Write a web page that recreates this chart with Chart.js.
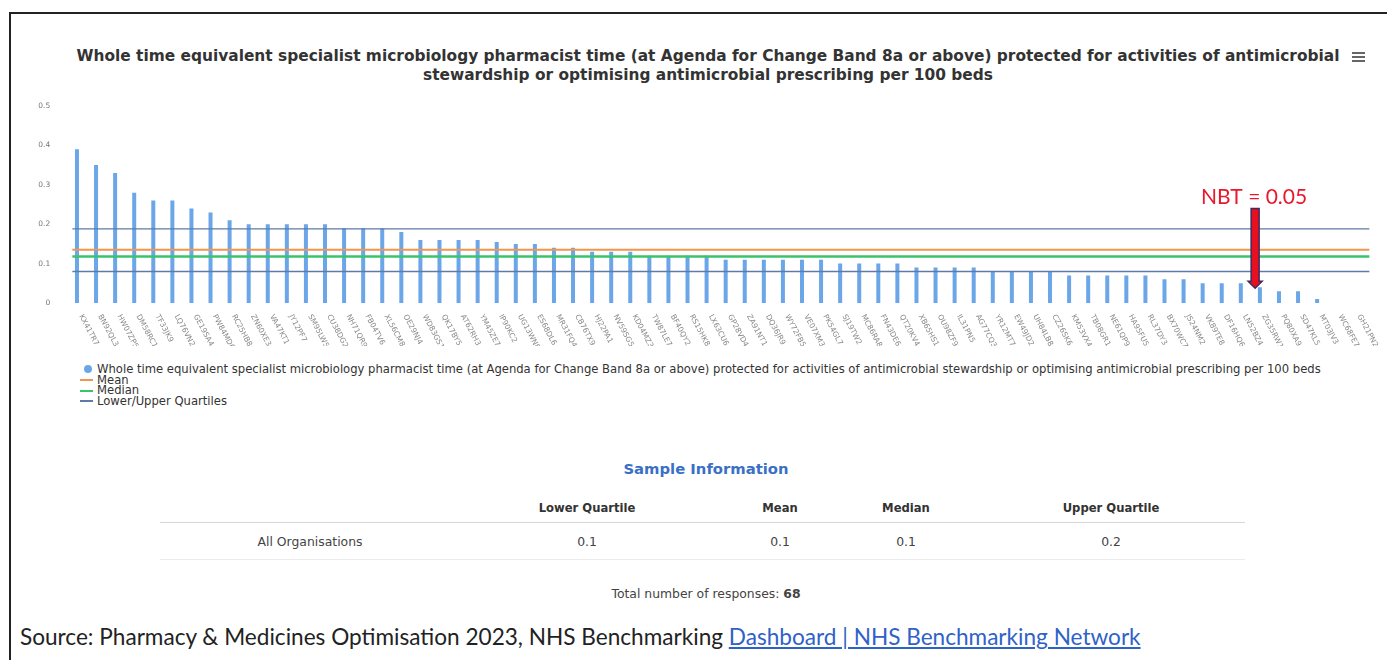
<!doctype html>
<html>
<head>
<meta charset="utf-8">
<title>WTE microbiology pharmacist time per 100 beds</title>
<script src="https://cdn.jsdelivr.net/npm/chart.js@4.4.1/dist/chart.umd.min.js"></script>
<style>
  body { margin: 0; width: 1387px; height: 660px; overflow: hidden; position: relative; background: #fff; font-family: "DejaVu Sans", sans-serif; color: #333; }
  #frame { position: absolute; left: 9px; top: 12px; width: 1390px; height: 660px; border-left: 2px solid #222; border-top: 2px solid #222; }
  #title { position: absolute; left: 29px; width: 1358px; top: 47px; text-align: center; font: bold 15.4px "DejaVu Sans"; line-height: 19px; color: #333; }
  #menu { position: absolute; left: 1352px; top: 52px; width: 13px; }
  #menu span { display: block; height: 2px; background: #666; margin-bottom: 2px; }
  #chart-holder { position: absolute; left: 0; top: 76px; width: 1387px; height: 270px; }
  #legend { position: absolute; left: 80px; top: 364px; font-size: 11.6px; line-height: 10.7px; color: #333; }
  #legend .item { display: flex; align-items: center; white-space: nowrap; }
  #legend .mark { width: 17px; height: 10px; position: relative; }
  #legend .dot { position: absolute; left: 4px; top: 1px; width: 8px; height: 8px; border-radius: 50%; }
  #legend .line { position: absolute; left: 0; top: 4px; width: 13px; height: 2px; }
  .cell { position: absolute; transform: translateX(-50%); white-space: nowrap; }
  #sample-title { left: 706px; top: 460px; font: bold 14.8px "DejaVu Sans"; color: #3a6fc6; }
  .head { top: 501px; font: bold 11.6px "DejaVu Sans"; color: #333; }
  .val { top: 534px; font-size: 12.4px; color: #444; }
  .rule { position: absolute; left: 160px; width: 1085px; height: 1px; }
  #total { left: 706px; top: 586px; font-size: 12.4px; color: #444; }
  #source { position: absolute; left: 20px; top: 623px; font: 22.6px Lato; color: #222; white-space: nowrap; }
  #source a { color: #2f62c8; text-decoration: underline; }
</style>
</head>
<body>
<div id="frame"></div>
<div id="title">Whole time equivalent specialist microbiology pharmacist time (at Agenda for Change Band 8a or above) protected for activities of antimicrobial<br>stewardship or optimising antimicrobial prescribing per 100 beds</div>
<div id="menu"><span></span><span></span><span></span></div>
<div id="chart-holder"><canvas id="chart" width="1387" height="270"></canvas></div>
<div id="legend"></div>
<div id="sample-title" class="cell">Sample Information</div>
<div id="table"></div>
<div class="rule" style="top:522px;background:#d6d6d6"></div>
<div class="rule" style="top:559px;background:#ececec"></div>
<div id="total" class="cell">Total number of responses: <b>68</b></div>
<div id="source">Source: Pharmacy &amp; Medicines Optimisation 2023, NHS Benchmarking <a href="#">Dashboard | NHS Benchmarking Network</a></div>

<script>
var seriesName = 'Whole time equivalent specialist microbiology pharmacist time (at Agenda for Change Band 8a or above) protected for activities of antimicrobial stewardship or optimising antimicrobial prescribing per 100 beds';

// organisation codes along the x axis
var orgCodes = [
  'KX41TR7','BN92QL3','HW07ZP5','DM58RC1','TF33JK9','LQ76VN2','GE19SA4','PW84MD6','RC25HB8','ZN60XE3',
  'VA47KT1','JY12PF7','SM95LW5','CU38DG2','NH71QR9','FB04TV6','XL56CM8','OE29NJ4','WD83GS1','QK17BY5',
  'AT62RH3','YM45ZE7','IP90KC2','UG13WN8','ES68DL6','MR31FQ4','CB76TX9','HJ22PA1','NV59SG5','KD04MZ3',
  'TW87LE7','BF40QY2','RS15HK8','LX63CU6','GP28VD4','ZA91NT1','DQ36JR9','WY72FB5','VE07XM3','PK54GL7',
  'SJ19TW2','MC86RA8','FN43DE6','QT20KV4','XB65HS1','OU98ZF9','IL31PN5','AG77CQ3','YR12MT7','EW49JD2',
  'UH84LB8','CZ26SK6','KM53VX4','TB08GR1','NE61QP9','HA95FU5','RL37DY3','BX70WC7','JS24NM2','VK89TE8',
  'DF16HQ6','LN52BZ4','ZG35RW1','PQ80XA9','SD47KL5','MT03JV3','WC68FE7','GH21PN2'
];

// WTE per 100 beds, one per organisation
var wteValues = [
  0.39, 0.35, 0.33, 0.28, 0.26, 0.26, 0.24, 0.23, 0.21, 0.20,
  0.20, 0.20, 0.20, 0.20, 0.19, 0.19, 0.19, 0.18, 0.16, 0.16,
  0.16, 0.16, 0.155, 0.15, 0.15, 0.14, 0.14, 0.13, 0.13, 0.13,
  0.12, 0.12, 0.12, 0.12, 0.11, 0.11, 0.11, 0.11, 0.11, 0.11,
  0.10, 0.10, 0.10, 0.10, 0.09, 0.09, 0.09, 0.09, 0.08, 0.08,
  0.08, 0.08, 0.07, 0.07, 0.07, 0.07, 0.07, 0.06, 0.06, 0.05,
  0.05, 0.05, 0.04, 0.03, 0.03, 0.01, 0, 0
];

var statNames = ['Lower Quartile', 'Mean', 'Median', 'Upper Quartile'];
var statValues = [0.08, 0.135, 0.118, 0.188];
var yTicks = [0, 0.1, 0.2, 0.3, 0.4, 0.5];

var nbtValue = 0.05;
var nbtIndex = 61;

var barBlue = '#6aa6e8';
var meanColor = '#f2954f';
var medianColor = '#39c46c';
var quartileColor = '#5f7aa6';

function statLine(label, value, color, width) {
  return {
    type: 'line',
    label: label,
    xAxisID: 'x2',
    data: [{ x: -0.5, y: value }, { x: orgCodes.length - 0.5, y: value }],
    borderColor: color,
    borderWidth: width,
    pointRadius: 0,
    fill: false,
    order: 1
  };
}

// x labels slanted downwards to the right, starting at each bar
var slantedLabels = {
  id: 'slantedLabels',
  afterDraw: function(chart) {
    var ctx = chart.ctx, x = chart.scales.x, y = chart.scales.y;
    ctx.save();
    ctx.font = '7.5px "DejaVu Sans"';
    ctx.fillStyle = '#888';
    ctx.textBaseline = 'middle';
    ctx.textAlign = 'left';
    orgCodes.forEach(function(code, i) {
      ctx.save();
      ctx.translate(x.getPixelForValue(i) - 1, y.bottom + 12);
      ctx.rotate(62 * Math.PI / 180);
      ctx.fillText(code, 0, 0);
      ctx.restore();
    });
    ctx.restore();
  }
};

// red arrow with the NBT value
var nbtMarker = {
  id: 'nbtMarker',
  afterDatasetsDraw: function(chart) {
    var ctx = chart.ctx, x2 = chart.scales.x2, y = chart.scales.y;
    var cx = x2.getPixelForValue(nbtIndex + 0.5);
    var top = y.getPixelForValue(0.24);
    var tip = y.getPixelForValue(nbtValue) + 5;
    ctx.save();
    ctx.beginPath();
    ctx.moveTo(cx - 4, top);
    ctx.lineTo(cx + 4, top);
    ctx.lineTo(cx + 4, tip - 7);
    ctx.lineTo(cx + 7, tip - 7);
    ctx.lineTo(cx, tip);
    ctx.lineTo(cx - 7, tip - 7);
    ctx.lineTo(cx - 4, tip - 7);
    ctx.closePath();
    ctx.fillStyle = '#e8101e';
    ctx.fill();
    ctx.lineWidth = 1.5;
    ctx.strokeStyle = '#3d2b63';
    ctx.stroke();

    ctx.font = '21px Lato';
    ctx.fillStyle = '#e8192c';
    ctx.textAlign = 'center';
    ctx.textBaseline = 'alphabetic';
    ctx.fillText('NBT = ' + nbtValue.toFixed(2), cx - 1, top - 4);
    ctx.restore();
  }
};

var ctx = document.getElementById('chart').getContext('2d');
window.myBar = new Chart(ctx, {
  type: 'bar',
  data: {
    labels: orgCodes,
    datasets: [
      {
        label: seriesName,
        data: wteValues,
        backgroundColor: barBlue,
        categoryPercentage: 1,
        barPercentage: 0.42,
        order: 2
      },
      statLine('Upper Quartile', statValues[3], quartileColor, 1.3),
      statLine('Mean', statValues[1], meanColor, 2),
      statLine('Median', statValues[2], medianColor, 2.5),
      statLine('Lower Quartile', statValues[0], quartileColor, 1.3)
    ]
  },
  options: {
    responsive: false,
    animation: false,
    // the y tick padding also pads the top, so keep the user padding above it
    layout: { padding: { top: 30, right: 17.4, bottom: 43, left: 0 } },
    plugins: {
      legend: { display: false },
      title: { display: false },
      tooltip: { enabled: false }
    },
    scales: {
      x: { display: false },
      x2: { type: 'linear', display: false, offset: false, min: -0.5, max: orgCodes.length - 0.5 },
      y: {
        min: 0,
        max: 0.5,
        afterBuildTicks: function(s) { s.ticks = yTicks.map(function(v) { return { value: v }; }); },
        afterFit: function(s) { s.width = 72.2; },
        ticks: {
          padding: 22,
          color: '#777',
          font: { size: 7.5, family: 'DejaVu Sans' },
          callback: function(v) { return v === 0 ? '0' : v.toFixed(1); }
        },
        grid: { display: false, drawTicks: false },
        border: { display: false }
      }
    }
  },
  plugins: [slantedLabels, nbtMarker]
});

// legend: series marker plus the three reference lines
var legendItems = [
  { text: seriesName, kind: 'dot', color: barBlue },
  { text: 'Mean', kind: 'line', color: meanColor },
  { text: 'Median', kind: 'line', color: medianColor },
  { text: 'Lower/Upper Quartiles', kind: 'line', color: quartileColor }
];
var legend = document.getElementById('legend');
legendItems.forEach(function(it) {
  var row = document.createElement('div');
  row.className = 'item';
  row.innerHTML = '<span class="mark"><span class="' + it.kind + '" style="background:' + it.color + '"></span></span>' + it.text;
  legend.appendChild(row);
});

// sample information table
var colX = [587, 780, 906, 1111];
var table = document.getElementById('table');
var html = '<div class="cell val" style="left:310px">All Organisations</div>';
statNames.forEach(function(name, i) {
  html += '<div class="cell head" style="left:' + colX[i] + 'px">' + name + '</div>';
  html += '<div class="cell val" style="left:' + colX[i] + 'px">' + statValues[i].toFixed(1) + '</div>';
});
table.innerHTML = html;
</script>
</body>
</html>
